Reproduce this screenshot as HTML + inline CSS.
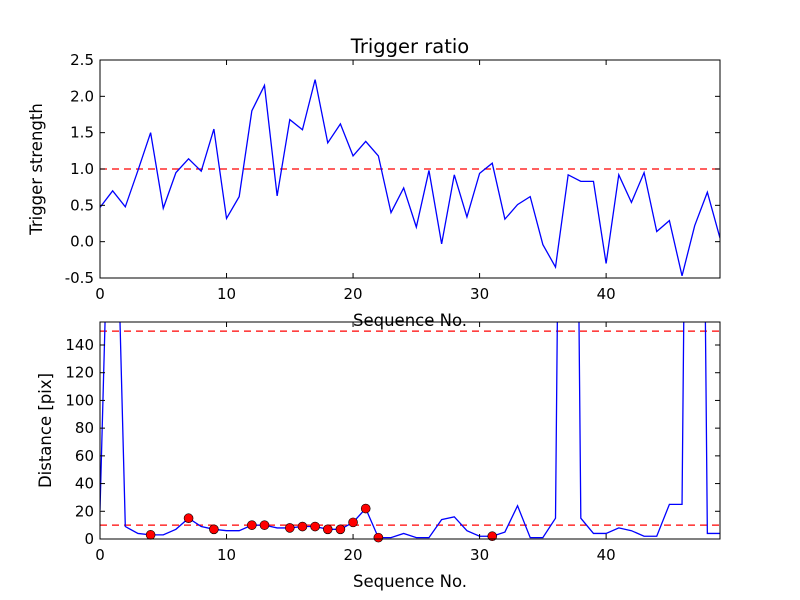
<!DOCTYPE html>
<html><head><meta charset="utf-8"><style>
body{margin:0;background:#fff}
svg{display:block;font-family:"DejaVu Sans","Liberation Sans",sans-serif}
</style></head><body>
<svg id="chart" width="800" height="600" xmlns="http://www.w3.org/2000/svg"></svg>
<script>
const seq = Array.from({length:50},(_,i)=>i);
const strength = [0.47,0.70,0.48,0.98,1.50,0.46,0.95,1.14,0.97,1.55,0.32,0.62,1.80,2.15,0.63,1.68,1.54,2.23,1.36,1.62,1.18,1.38,1.18,0.40,0.74,0.20,0.98,-0.03,0.92,0.34,0.94,1.08,0.31,0.51,0.62,-0.04,-0.35,0.92,0.83,0.83,-0.30,0.92,0.54,0.95,0.14,0.29,-0.47,0.22,0.68,0.05];
const distance = [21,361,9,4,3,3,7,15,9,7,6,6,10,10,8,8,9,9,7,7,12,22,1,1,4,1,1,14,16,6,2,2,5,24,1,1,15,1000,15,4,4,8,6,2,2,25,25,1000,4,4];
const markerIdx = [4,7,9,12,13,15,16,17,18,19,20,21,22,31];
const xTicks = [0,10,20,30,40];
const topYTicks = [-0.5,0.0,0.5,1.0,1.5,2.0,2.5];
const botYTicks = [0,20,40,60,80,100,120,140];
const topThresh = [1.0];
const botThresh = [10,150];

const svg = document.getElementById('chart');
const NS='http://www.w3.org/2000/svg';
function mk(tag,attrs,parent){const e=document.createElementNS(NS,tag);for(const k in attrs)e.setAttribute(k,attrs[k]);(parent||svg).appendChild(e);return e;}

function panel(cfg){
  const {x0,x1,y0,y1,ymin,ymax,yticks,fmt,name}=cfg;
  const sx=v=>x0+(v-0)/(49-0)*(x1-x0);
  const sy=v=>y1-(v-ymin)/(ymax-ymin)*(y1-y0);
  const g=mk('g',{});
  
  
  const cid='clip-'+name;
  const cp=mk('clipPath',{id:cid},g);
  mk('rect',{x:x0,y:y0,width:x1-x0,height:y1-y0},cp);
  const plot=mk('g',{'clip-path':'url(#'+cid+')'},g);
  cfg.thresh.forEach(t=>{
    const l=mk('line',{x1:x0,x2:x1,y1:sy(t),y2:sy(t),stroke:'#ff0000','stroke-width':1.3,'stroke-dasharray':'7,5'},plot);
    
    
  });
  const pts=seq.map((s,i)=>sx(s)+','+sy(cfg.vals[i])).join(' ');
  const pl=mk('polyline',{points:pts,fill:'none',stroke:'#0000ff','stroke-width':1.3},plot);
  
  
  if(cfg.markers){cfg.markers.forEach(i=>{
    const c=mk('circle',{cx:sx(seq[i]),cy:sy(cfg.vals[i]),r:4.5,fill:'#ff0000',stroke:'#000','stroke-width':0.6},g);
    
    
  });}
  mk('rect',{x:x0,y:y0,width:x1-x0,height:y1-y0,fill:'none',stroke:'#000','stroke-width':1},g);
  xTicks.forEach(t=>{
    const X=sx(t);
    mk('line',{x1:X,x2:X,y1:y1,y2:y1-5,stroke:'#000'},g);
    mk('line',{x1:X,x2:X,y1:y0,y2:y0+5,stroke:'#000'},g);
    const tx=mk('text',{x:X,y:y1+21,'font-size':15,'text-anchor':'middle'},g);tx.textContent=t;
    
    
  });
  yticks.forEach(t=>{
    const Y=sy(t);
    mk('line',{x1:x0,x2:x0+5,y1:Y,y2:Y,stroke:'#000'},g);
    mk('line',{x1:x1,x2:x1-5,y1:Y,y2:Y,stroke:'#000'},g);
    const tx=mk('text',{x:x0-6,y:Y+5,'font-size':15,'text-anchor':'end'},g);tx.textContent=fmt(t);
    
    
  });
  const xl=mk('text',{x:(x0+x1)/2,y:y1+48,'font-size':16.5,'text-anchor':'middle'},g);xl.textContent='Sequence No.';
  
  
  const yl=mk('text',{x:0,y:0,'font-size':16.5,'text-anchor':'middle',transform:`translate(${cfg.ylx},${(y0+y1)/2}) rotate(-90)`},g);yl.textContent=cfg.ylabel;
  
  
}
panel({name:'top-panel',x0:100,x1:720,y0:60,y1:278,ymin:-0.5,ymax:2.5,yticks:topYTicks,fmt:v=>v.toFixed(1),vals:strength,thresh:topThresh,ylabel:'Trigger strength',ylx:42});
panel({name:'bottom-panel',x0:100,x1:720,y0:322,y1:539,ymin:0,ymax:156.6,yticks:botYTicks,fmt:v=>String(v),vals:distance,thresh:botThresh,markers:markerIdx,ylabel:'Distance [pix]',ylx:51});
const t=mk('text',{x:410,y:53,'font-size':19.5,'text-anchor':'middle'});t.textContent='Trigger ratio';


</script>
</body></html>
